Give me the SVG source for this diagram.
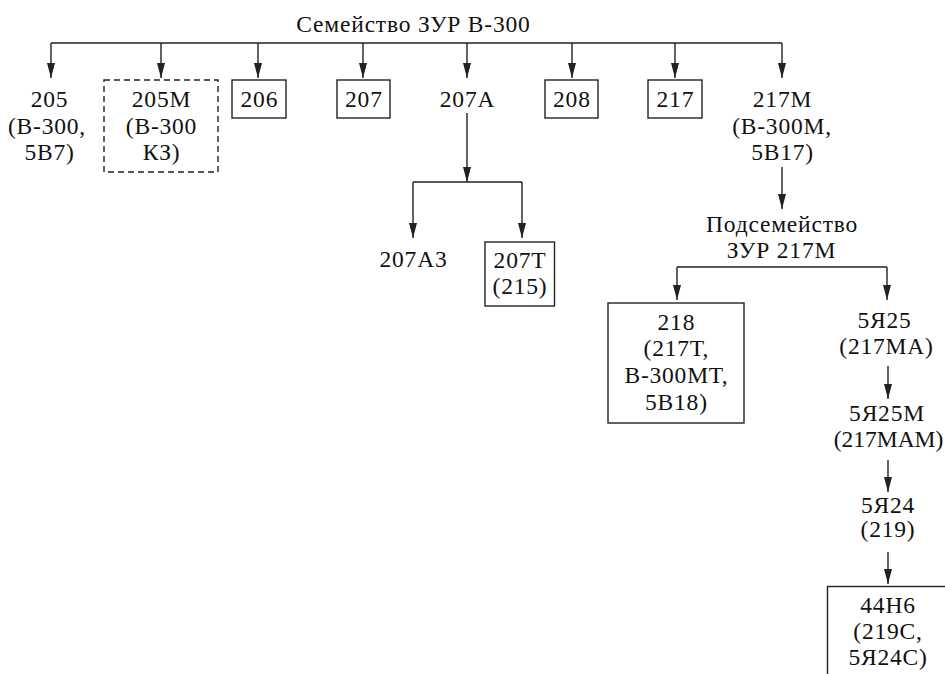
<svg xmlns="http://www.w3.org/2000/svg" width="945" height="674" viewBox="0 0 945 674" font-family="'Liberation Serif', 'Times New Roman', 'DejaVu Serif', serif">
<style>
text{font-family:"Liberation Serif","Times New Roman","DejaVu Serif",serif;font-size:23.5px;fill:#111;text-anchor:middle;letter-spacing:0.8px}
.tight{letter-spacing:0}
.box{fill:none;stroke:#222;stroke-width:1.4}
.dash{fill:none;stroke:#222;stroke-width:1.4;stroke-dasharray:6 4}
.c{fill:none;stroke:#222;stroke-width:1.4}
.a{fill:none;stroke:#222;stroke-width:1.4;marker-end:url(#ah)}
</style>
<defs>
<marker id="ah" viewBox="0 0 15 8" refX="15" refY="4" markerWidth="15" markerHeight="8" markerUnits="userSpaceOnUse" orient="auto">
<path d="M0,0 L15,4 L0,8 Z" fill="#222"/>
</marker>
</defs>
<rect width="945" height="674" fill="#fff"/>
<g id="connectors">
<line class="c" x1="51" y1="43" x2="782" y2="43"/>
<line class="a" x1="51" y1="43" x2="51" y2="78"/>
<line class="a" x1="161" y1="43" x2="161" y2="78"/>
<line class="a" x1="258" y1="43" x2="258" y2="78"/>
<line class="a" x1="363" y1="43" x2="363" y2="78"/>
<line class="a" x1="467" y1="43" x2="467" y2="78"/>
<line class="a" x1="572" y1="43" x2="572" y2="78"/>
<line class="a" x1="675" y1="43" x2="675" y2="78"/>
<line class="a" x1="782" y1="43" x2="782" y2="78"/>
<line class="a" x1="467" y1="113" x2="467" y2="182"/>
<line class="c" x1="413" y1="182" x2="522" y2="182"/>
<line class="a" x1="413" y1="182" x2="413" y2="238"/>
<line class="a" x1="522" y1="182" x2="522" y2="238"/>
<line class="a" x1="782" y1="167" x2="782" y2="209"/>
<line class="c" x1="677" y1="267" x2="887" y2="267"/>
<line class="a" x1="677" y1="267" x2="677" y2="300"/>
<line class="a" x1="887" y1="267" x2="887" y2="300"/>
<line class="a" x1="888" y1="366" x2="888" y2="399"/>
<line class="a" x1="888" y1="460" x2="888" y2="492"/>
<line class="a" x1="888" y1="552" x2="888" y2="584"/>
</g>
<g id="title"><text x="413.5" y="31.5">Семейство ЗУР В-300</text></g>
<g id="n205"><text x="49.5" y="107">205</text><text x="47" y="134">(В-300,</text><text x="49.5" y="160">5В7)</text></g>
<g id="n205m"><rect class="dash" x="104" y="80" width="114" height="92"/><text x="161.5" y="107">205М</text><text x="161.5" y="134">(В-300</text><text x="161.5" y="160">КЗ)</text></g>
<g id="n206"><rect class="box" x="232" y="80" width="54" height="38"/><text x="259.4" y="107">206</text></g>
<g id="n207"><rect class="box" x="337" y="80" width="53" height="38"/><text x="363.9" y="107">207</text></g>
<g id="n207a"><text x="467.5" y="107">207А</text></g>
<g id="n208"><rect class="box" x="545" y="80" width="53" height="38"/><text x="571.9" y="107">208</text></g>
<g id="n217"><rect class="box" x="648" y="80" width="54" height="38"/><text x="675.4" y="107">217</text></g>
<g id="n217m"><text x="782.5" y="107">217М</text><text x="782" y="134">(В-300М,</text><text x="782.5" y="160">5В17)</text></g>
<g id="n207a3"><text x="413.5" y="266.5">207А3</text></g>
<g id="n207t"><rect class="box" x="485" y="242" width="69.5" height="64"/><text x="520" y="268">207Т</text><text x="520" y="294">(215)</text></g>
<g id="sub217m"><text x="782" y="231.5">Подсемейство</text><text x="781.5" y="257.5">ЗУР 217М</text></g>
<g id="n218"><rect class="box" x="608" y="303" width="136" height="120"/><text x="676.4" y="329.5">218</text><text x="676.4" y="356">(217Т,</text><text x="676.4" y="383">В-300МТ,</text><text x="676.4" y="409.5">5В18)</text></g>
<g id="n5ya25"><text x="884.5" y="328">5Я25</text><text x="886.5" y="354">(217МА)</text></g>
<g id="n5ya25m"><text x="887" y="421">5Я25М</text><text class="tight" x="888.5" y="447">(217МАМ)</text></g>
<g id="n5ya24"><text x="888" y="513">5Я24</text><text x="888" y="537">(219)</text></g>
<g id="n44n6"><rect class="box" x="827.5" y="586.5" width="121" height="100"/><text x="888" y="613">44Н6</text><text x="888" y="639">(219С,</text><text x="888" y="665">5Я24С)</text></g>
</svg>
